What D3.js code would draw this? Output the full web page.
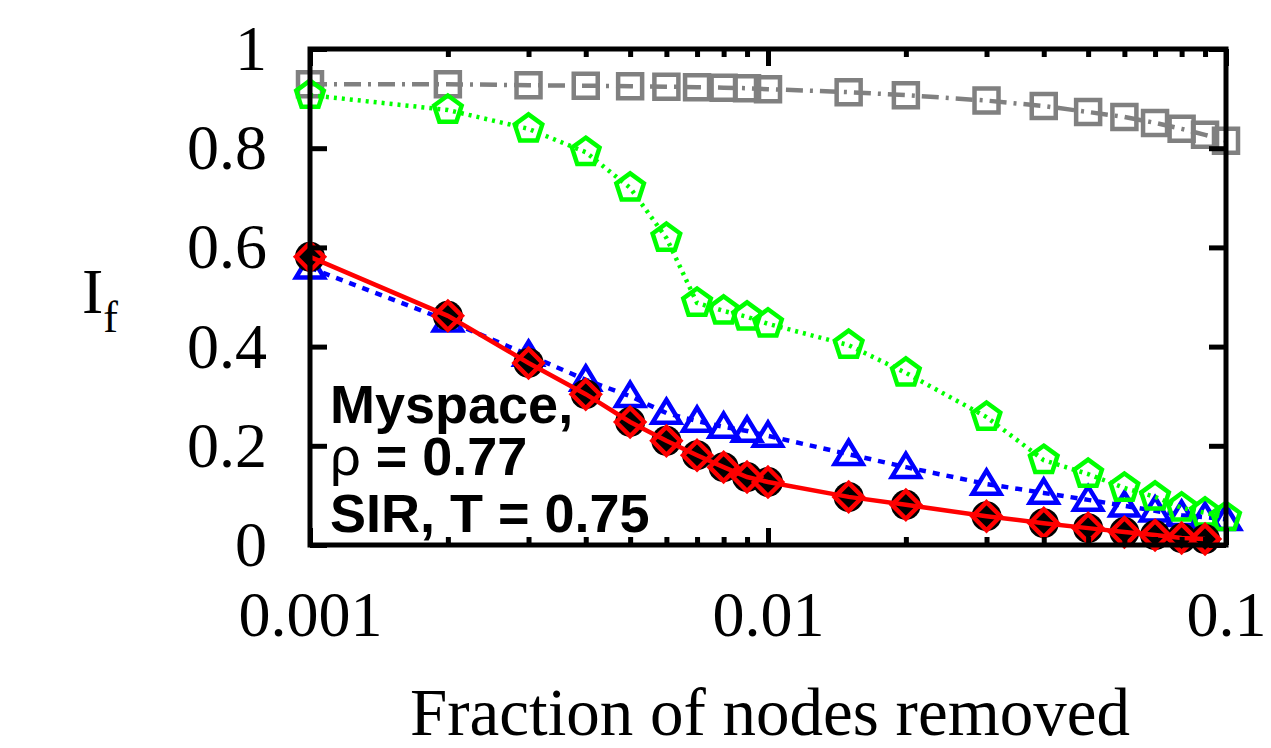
<!DOCTYPE html>
<html>
<head>
<meta charset="utf-8">
<script src="https://cdn.jsdelivr.net/npm/d3@7"></script>
<style>
  html, body { margin: 0; padding: 0; background: #fff; }
  svg { display: block; }
</style>
</head>
<body>
<svg id="chart" width="1271" height="748"></svg>
<script>
// ---- data ----
const fractions = [0.001, 0.002, 0.003, 0.004, 0.005, 0.006, 0.007, 0.008, 0.009, 0.01,
                   0.015, 0.02, 0.03, 0.04, 0.05, 0.06, 0.07, 0.08, 0.09, 0.1];
const graySquares = [0.929, 0.929, 0.927, 0.926, 0.925, 0.924, 0.923, 0.922, 0.921, 0.919,
                     0.913, 0.907, 0.896, 0.885, 0.873, 0.863, 0.851, 0.839, 0.827, 0.815];
const greenPentagons = [0.907, 0.877, 0.839, 0.792, 0.720, 0.619, 0.488, 0.472, 0.460, 0.446,
                        0.403, 0.347, 0.258, 0.171, 0.143, 0.115, 0.097, 0.075, 0.065, 0.056];
const blueTriangles = [0.559, 0.452, 0.383, 0.333, 0.300, 0.266, 0.250, 0.238, 0.230, 0.220,
                       0.183, 0.157, 0.123, 0.105, 0.091, 0.079, 0.069, 0.060, 0.056, 0.052];
const blackCircles = [0.581, 0.462, 0.367, 0.304, 0.248, 0.210, 0.181, 0.157, 0.137, 0.127,
                      0.097, 0.081, 0.058, 0.044, 0.034, 0.026, 0.020, 0.014, 0.012];
const redDiamonds = [0.581, 0.462, 0.367, 0.304, 0.248, 0.210, 0.181, 0.157, 0.137, 0.127,
                     0.097, 0.081, 0.058, 0.044, 0.034, 0.026, 0.020, 0.014, 0.012];
const xMajorTicks = [0.001, 0.01, 0.1];
const xMajorLabels = ["0.001", "0.01", "0.1"];
const xMinorTicks = [0.002, 0.003, 0.004, 0.005, 0.006, 0.007, 0.008, 0.009,
                     0.02, 0.03, 0.04, 0.05, 0.06, 0.07, 0.08, 0.09];
const yTicks = [0, 0.2, 0.4, 0.6, 0.8, 1];
const yTickLabels = ["0", "0.2", "0.4", "0.6", "0.8", "1"];
const annotation = ["Myspace,", "ρ", " = 0.77", "SIR, T = 0.75"];

// ---- layout ----
const svg = d3.select("#chart");
const L = 310, R = 1226, T = 49, B = 545;
const x = d3.scaleLog().domain([0.001, 0.1]).range([L, R]);
const y = d3.scaleLinear().domain([0, 1]).range([B, T]);
const serif = "'Liberation Serif', 'DejaVu Serif', serif";
const sans = "'Liberation Sans', Arial, sans-serif";

// ---- symbol types ----
const sqType = { draw(c, s) { const h = Math.sqrt(s) / 2; c.moveTo(-h, -h); c.lineTo(h, -h); c.lineTo(h, h); c.lineTo(-h, h); c.closePath(); } };
const pentType = { draw(c, s) { const r = Math.sqrt(s) / 2; for (let i = 0; i < 5; i++) { const a = -Math.PI / 2 + i * 2 * Math.PI / 5; const px = r * Math.cos(a), py = r * Math.sin(a); if (i === 0) c.moveTo(px, py); else c.lineTo(px, py); } c.closePath(); } };
const triType = { draw(c, s) { const w = Math.sqrt(s) / 2; c.moveTo(0, -w * 0.95); c.lineTo(w, w * 0.7); c.lineTo(-w, w * 0.7); c.closePath(); } };
const diaType = { draw(c, s) { const r = Math.sqrt(s) / 2; c.moveTo(0, -r); c.lineTo(r, 0); c.lineTo(0, r); c.lineTo(-r, 0); c.closePath(); } };
const circType = { draw(c, s) { const r = Math.sqrt(s) / 2; c.moveTo(r, 0); c.arc(0, 0, r, 0, 2 * Math.PI); } };

function series(values, opts) {
  const pts = values.map((v, i) => [fractions[i], v]);
  const g = svg.append("g");
  if (opts.line) {
    g.append("path")
      .attr("d", d3.line().x(d => x(d[0])).y(d => y(d[1]))(pts))
      .attr("fill", "none")
      .attr("stroke", opts.color)
      .attr("stroke-width", opts.lw)
      .attr("stroke-dasharray", opts.dash || null);
  }
  g.selectAll("path.m").data(pts).join("path")
    .attr("class", "m")
    .attr("transform", d => `translate(${x(d[0])},${y(d[1])})`)
    .attr("d", d3.symbol().type(opts.type).size(opts.size * opts.size))
    .attr("fill", opts.fill || "none")
    .attr("stroke", opts.fill ? "none" : opts.color)
    .attr("stroke-width", 4.5)
    .attr("stroke-linejoin", "miter");
}

series(graySquares, { color: "#808080", type: sqType, size: 24, line: true, lw: 4.5, dash: "17,7,3,7" });
series(blueTriangles, { color: "#0000ff", type: triType, size: 28, line: true, lw: 4.5, dash: "7,7" });
series(greenPentagons, { color: "#00ff00", type: pentType, size: 29, line: true, lw: 4.5, dash: "3,5" });
series(blackCircles, { color: "#000", type: circType, size: 30, fill: "#000" });
series(redDiamonds, { color: "#ff0000", type: diaType, size: 28, line: true, lw: 4.5 });

// ---- axes ----
function styleAxis(g) { g.select(".domain").remove(); g.selectAll(".tick line").attr("stroke", "#000").attr("stroke-width", 5); }

svg.append("g").attr("transform", `translate(0,${B})`)
  .call(d3.axisBottom(x).tickValues(xMajorTicks).tickSize(-17).tickPadding(46)
        .tickFormat((d, i) => xMajorLabels[i]))
  .call(styleAxis)
  .call(g => g.selectAll("text").attr("font-family", serif).attr("font-size", 64).attr("fill", "#000"));
svg.append("g").attr("transform", `translate(0,${B})`)
  .call(d3.axisBottom(x).tickValues(xMinorTicks).tickSize(-8).tickFormat(""))
  .call(styleAxis);
svg.append("g").attr("transform", `translate(0,${T})`)
  .call(d3.axisTop(x).tickValues(xMajorTicks).tickSize(-17).tickFormat(""))
  .call(styleAxis);
svg.append("g").attr("transform", `translate(0,${T})`)
  .call(d3.axisTop(x).tickValues(xMinorTicks).tickSize(-8).tickFormat(""))
  .call(styleAxis);
svg.append("g").attr("transform", `translate(${L},0)`)
  .call(d3.axisLeft(y).tickValues(yTicks).tickSize(-17).tickPadding(43)
        .tickFormat((d, i) => yTickLabels[i]))
  .call(styleAxis)
  .call(g => g.selectAll("text").attr("font-family", serif).attr("font-size", 64).attr("fill", "#000"));
svg.append("g").attr("transform", `translate(${R},0)`)
  .call(d3.axisRight(y).tickValues(yTicks).tickSize(-17).tickFormat(""))
  .call(styleAxis);

// frame
svg.append("rect").attr("x", L).attr("y", T).attr("width", R - L).attr("height", B - T)
  .attr("fill", "none").attr("stroke", "#000").attr("stroke-width", 5);

// axis titles
svg.append("text").attr("x", 770).attr("y", 735).attr("text-anchor", "middle")
  .attr("font-family", serif).attr("font-size", 67).attr("fill", "#000")
  .text("Fraction of nodes removed");
const yl = svg.append("text").attr("x", 82).attr("y", 313)
  .attr("font-family", serif).attr("font-size", 64).attr("fill", "#000");
yl.append("tspan").text("I");
yl.append("tspan").attr("dy", 19).attr("font-size", 44).text("f");

// annotation
const ann = svg.append("g").attr("font-family", sans).attr("font-size", 54).attr("fill", "#000");
ann.append("text").attr("x", 330).attr("y", 423).attr("font-weight", "bold").text(annotation[0]);
const t2 = ann.append("text").attr("x", 330).attr("y", 475);
t2.append("tspan").attr("font-weight", "normal").text(annotation[1]);
t2.append("tspan").attr("font-weight", "bold").text(annotation[2]);
ann.append("text").attr("x", 330).attr("y", 532).attr("font-weight", "bold").text(annotation[3]);
</script>
</body>
</html>
